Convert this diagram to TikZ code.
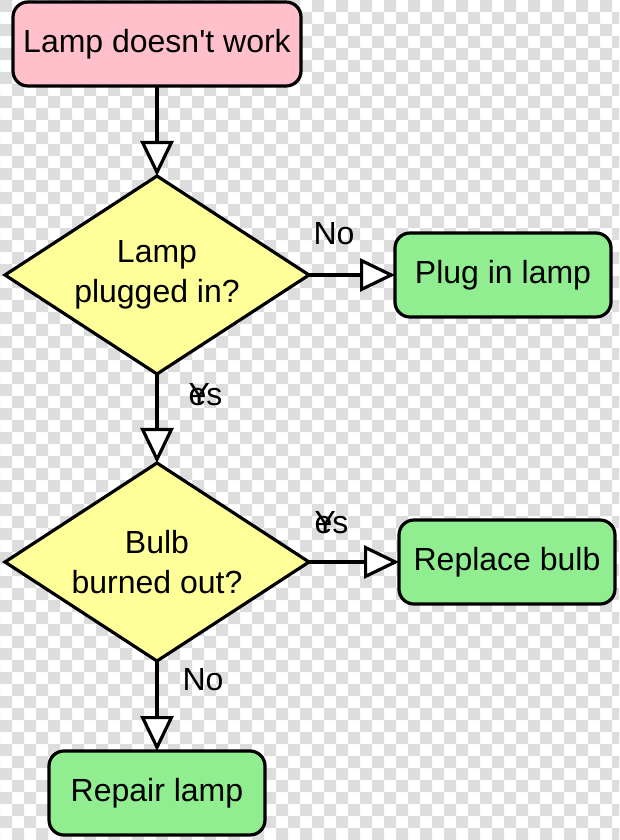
\documentclass[tikz,border=0pt]{standalone}
\usepackage{fontspec}
\setmainfont{Liberation Sans}
\usetikzlibrary{shapes.geometric,arrows.meta,positioning}
\definecolor{startpink}{RGB}{255,192,203}
\definecolor{stepgreen}{RGB}{144,238,144}
\definecolor{askyellow}{RGB}{255,255,153}
\definecolor{checkgray}{RGB}{221,221,221}

\begin{document}
\begin{tikzpicture}[x=1pt, y=-1pt, line width=3.2pt, node distance=90pt,
	font=\fontsize{32}{40}\selectfont,
	box/.style={rectangle, rounded corners=15pt, draw, minimum width=216pt, minimum height=84pt, inner sep=0pt, outer sep=0pt},
	ask/.style={diamond, draw, fill=askyellow, aspect=1.535, minimum width=304pt, minimum height=198pt, inner sep=0pt, outer sep=0pt, align=center},
	flow/.style={-{Triangle[length=35pt, width=33pt, fill=white]}},
	answer/.style={anchor=base west, inner sep=0pt}]
	\useasboundingbox (0,0) rectangle (619,840);
	% checkerboard behind everything
	\fill[checkgray, even odd rule]
		\foreach \i in {0,2,...,50} {(12*\i,0) rectangle ++(12,840)}
		\foreach \j in {1,3,...,69} {(0,12*\j) rectangle ++(619,12)};
	\node[box, fill=startpink, minimum width=288pt] (start) at (157,44) {Lamp doesn\textquotesingle t work};
	\node[ask, below=of start] (plugged) {Lamp\\plugged in?};
	\node[box, fill=stepgreen, right=86pt of plugged] (pluglamp) {Plug in lamp};
	\node[ask, below=89pt of plugged] (burned) {Bulb\\burned out?};
	\node[box, fill=stepgreen, right=of burned] (replace) {Replace bulb};
	\node[box, fill=stepgreen, below=of burned] (repair) {Repair lamp};
	\draw[flow] (start) -- (plugged);
	\draw[flow] (plugged.east) -- (pluglamp)
		node[answer, pos=0, xshift=3pt, yshift=31pt] {No};
	\draw[flow] (plugged.south) -- (burned)
		node[answer, pos=0, xshift=30pt, yshift=-31pt] {\rlap{Y}es};
	\draw[flow] (burned.east) -- (replace)
		node[answer, pos=0, xshift=4pt, yshift=29pt] {\rlap{Y}es};
	\draw[flow] (burned.south) -- (repair)
		node[answer, pos=0, xshift=24pt, yshift=-29pt] {No};
\end{tikzpicture}
\end{document}
